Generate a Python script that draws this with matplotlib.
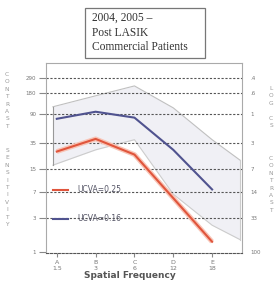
import numpy as np
import matplotlib.pyplot as plt
from matplotlib.patches import Rectangle

# FACT chart rows and spatial frequencies (cycles/degree)
rows = ['A', 'B', 'C', 'D', 'E']
freqs = ['1.5', '3', '6', '12', '18']
xpos = np.arange(len(rows))

# mean contrast sensitivity by group
cs_025 = [26.5, 40, 24, 5.8, 1.4]
cs_016 = [77, 97, 80, 28, 7.7]

# shaded normal range
band_x = [-0.1, 1, 2, 3, 4, 4.72]
band_hi = [114, 163, 225, 110, 39, 20]
band_lo = [17, 28, 39, 6.6, 2.4, 1.5]

# axis ticks
cs_ticks = [1, 3, 7, 15, 35, 90, 180, 290]
cs_labels = ['1', '3', '7', '15', '35', '90', '180', '290']
pct_labels = ['100', '33', '14', '7', '3', '1', '.6', '.4']

fig = plt.figure(figsize=(2.75, 2.81), dpi=100)
ax = fig.add_axes([0.167, 0.0996, 0.713, 0.676])

ax.fill_between(band_x, band_lo, band_hi, color='#f0f0f5', lw=0, zorder=1)
ax.plot(band_x, band_hi, color='#c0c0c0', lw=0.8, zorder=2)
ax.plot(band_x, band_lo, color='#cccccc', lw=0.8, zorder=2)
ax.plot([band_x[0], band_x[0]], [band_lo[0], band_hi[0]], color='#999999', lw=0.8, zorder=2)
ax.plot([band_x[-1], band_x[-1]], [band_lo[-1], band_hi[-1]], color='#cccccc', lw=0.8, zorder=2)

ax.plot(xpos, cs_025, color='#f8c4b6', lw=3.5, zorder=3, solid_capstyle='butt')
l1, = ax.plot(xpos, cs_025, color='#e0553c', lw=1.5, zorder=4, label='UCVA=0.25')
l2, = ax.plot(xpos, cs_016, color='#50538f', lw=1.5, zorder=4, label='UCVA=0.16')

ax.set_yscale('log')
ax.set_ylim(0.97, 474)
ax.set_xlim(-0.28, 4.77)

for t in cs_ticks[1:]:
    ax.axhline(t, color='#555555', lw=0.8, ls=(0, (2, 1.5)), zorder=2)

ax.set_yticks(cs_ticks)
ax.set_yticklabels(cs_labels)
ax.minorticks_off()
ax.tick_params(axis='y', labelsize=4, colors='#888888', length=5, width=0.8,
               labelcolor='#777777', pad=2)

ax.set_xticks(xpos)
ax.set_xticklabels([r + '\n' + f for r, f in zip(rows, freqs)])
ax.tick_params(axis='x', labelsize=4.5, labelcolor='#777777', colors='#888888',
               length=3, width=0.8, pad=2)

for s in ['top', 'right', 'left']:
    ax.spines[s].set_color('#aaaaaa')
    ax.spines[s].set_linewidth(0.8)
ax.spines['bottom'].set_color('#555555')
ax.spines['bottom'].set_linestyle((0, (2, 1.5)))

ax2 = ax.twinx()
ax2.set_yscale('log')
ax2.set_ylim(ax.get_ylim())
ax2.set_yticks(cs_ticks)
ax2.set_yticklabels(pct_labels)
ax2.minorticks_off()
ax2.tick_params(axis='y', labelsize=4, labelcolor='#777777', colors='#888888',
                length=0, pad=6)
for s in ax2.spines.values():
    s.set_visible(False)

leg = ax.legend(handles=[l1, l2], loc='lower left', bbox_to_anchor=(0.0, 0.12),
                frameon=False, fontsize=5.5, handlelength=2.0, labelspacing=2.6,
                handletextpad=1.2)
for txt in leg.get_texts():
    txt.set_color('#555566')

# stacked axis titles
fig.text(7 / 275, 1 - 72 / 281, '\n'.join('CONTRAST'), fontsize=4.2,
         color='#999999', ha='center', va='top', linespacing=1.6)
fig.text(7 / 275, 1 - 148 / 281, '\n'.join('SENSITIVITY'), fontsize=4.2,
         color='#999999', ha='center', va='top', linespacing=1.6)
fig.text(271 / 275, 1 - 86 / 281, '\n'.join('LOG CS'), fontsize=4.2,
         color='#999999', ha='center', va='top', linespacing=1.6)
fig.text(271 / 275, 1 - 156 / 281, '\n'.join('CONTRAST'), fontsize=4.2,
         color='#999999', ha='center', va='top', linespacing=1.6)

fig.text(130 / 275, 1 - 276 / 281, 'Spatial Frequency', fontsize=6.5,
         color='#555555', ha='center', va='center', fontweight='bold')

# title box
fig.patches.append(Rectangle((85 / 275, 1 - 58 / 281), 120 / 275, 50 / 281,
                             transform=fig.transFigure, fill=False,
                             ec='#777777', lw=0.9))
fig.text(92 / 275, 1 - 12 / 281, '2004, 2005 \u2013\nPost LASIK\nCommercial Patients',
         fontsize=8.3, family='Liberation Serif', color='#333333', va='top',
         linespacing=1.3)

fig.savefig('out.png', dpi=100)
